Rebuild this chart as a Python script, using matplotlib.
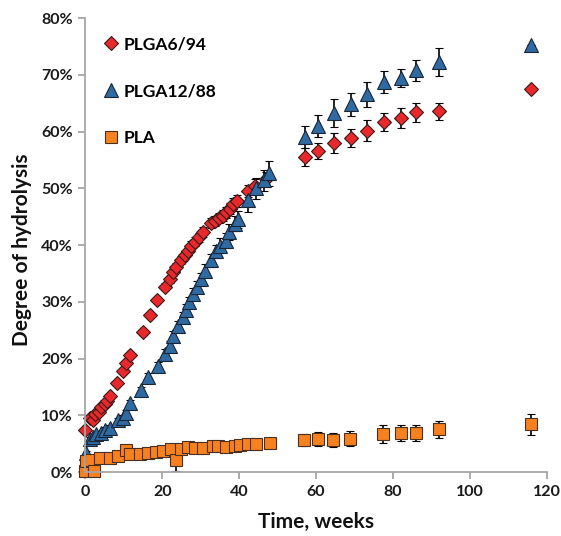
import matplotlib
matplotlib.use("Agg")
import matplotlib.pyplot as plt
from matplotlib.ticker import FuncFormatter
from matplotlib.lines import Line2D

plt.rcParams['font.family'] = ['Lato', 'DejaVu Sans']
plt.rcParams['font.weight'] = 'bold'

# PLGA6/94 (red diamonds)
t_6 = [0.0, 1.1, 2.0, 2.4, 3.5, 4.2, 5.0, 5.7, 6.3, 8.3, 9.8, 10.7, 11.5, 14.9, 16.8,
       18.7, 20.7, 22.0, 22.9, 23.7, 24.8, 25.9, 26.7, 27.6, 28.5, 29.6, 30.6, 32.6,
       33.7, 34.7, 35.9, 36.7, 37.6, 38.4, 39.5, 42.3, 44.1, 47.1,
       57.1, 60.5, 64.6, 69.0, 73.1, 77.6, 82.0, 85.9, 91.9, 115.8]
v_6 = [7.4, 9.5, 9.2, 10.2, 10.6, 11.4, 12.0, 12.5, 13.4, 15.7, 17.8, 19.3, 20.7, 24.7, 27.6,
       30.3, 32.7, 34.0, 35.2, 36.2, 37.3, 38.2, 39.0, 39.9, 40.6, 41.4, 42.3, 43.9,
       44.3, 44.8, 45.2, 45.8, 46.4, 47.3, 47.8, 49.5, 50.5, 51.7,
       55.5, 56.6, 58.0, 58.9, 60.2, 61.7, 62.4, 63.4, 63.6, 67.5]
e_6 = [0.3, 0.3, 0.3, 0.3, 0.3, 0.3, 0.3, 0.3, 0.3, 0.4, 0.4, 0.4, 0.4, 0.5, 0.5,
       0.5, 0.6, 0.6, 0.6, 0.7, 0.7, 0.7, 0.8, 0.8, 0.8, 0.8, 0.9, 0.9,
       0.9, 0.9, 1.0, 1.0, 1.0, 1.0, 1.0, 1.1, 1.2, 1.2,
       1.6, 1.4, 1.7, 1.6, 1.8, 1.6, 1.8, 1.7, 1.5, 0.0]

# PLGA12/88 (blue triangles)
t_12 = [0.3, 1.1, 2.0, 2.9, 4.2, 5.0, 6.3, 8.5, 9.8, 10.7, 11.5, 14.5, 16.3, 18.9, 20.6,
        21.9, 22.9, 24.2, 25.3, 26.2, 27.0, 28.1, 29.1, 30.1, 31.1, 32.8, 33.9, 35.0,
        36.7, 37.4, 38.9, 39.7, 42.4, 44.5, 46.5, 47.8,
        57.1, 60.5, 64.6, 69.0, 73.1, 77.6, 82.0, 85.9, 91.9, 115.8]
v_12 = [3.4, 5.8, 6.2, 6.7, 6.9, 7.4, 7.8, 9.1, 9.6, 10.4, 12.1, 14.4, 16.7, 18.7, 20.8,
        22.3, 24.0, 25.8, 27.3, 28.6, 29.9, 31.4, 32.7, 34.0, 35.5, 37.3, 38.9, 39.9,
        40.8, 42.3, 43.8, 44.6, 48.0, 50.0, 51.4, 52.7,
        59.1, 61.0, 63.3, 64.8, 66.6, 68.8, 69.4, 70.8, 72.3, 75.3]
e_12 = [0.3, 0.4, 0.4, 0.4, 0.4, 0.5, 0.5, 0.5, 0.5, 0.6, 0.6, 0.6, 0.7, 0.7, 0.8,
        0.8, 0.8, 0.9, 0.9, 1.0, 1.0, 1.0, 1.0, 1.1, 1.1, 1.2, 1.2, 1.3,
        1.3, 1.4, 1.4, 1.5, 2.1, 1.8, 1.9, 2.2,
        1.9, 1.9, 2.5, 2.1, 2.2, 1.9, 1.6, 1.8, 2.4, 0.0]

# PLA (orange squares)
t_pla = [0.0, 0.3, 1.6, 2.3, 3.7, 6.3, 8.5, 10.7, 11.5, 14.1, 16.3, 18.4, 20.2, 22.3,
         23.6, 24.9, 26.7, 28.4, 30.6, 33.2, 34.5, 36.6, 38.8, 40.1, 42.3, 44.4, 47.9,
         56.8, 60.5, 64.4, 68.9, 77.4, 82.0, 85.9, 91.9, 115.8]
v_pla = [0.1, 1.9, 2.1, 0.2, 2.4, 2.5, 2.8, 3.8, 3.2, 3.2, 3.4, 3.6, 3.7, 4.0,
         2.2, 4.0, 4.4, 4.3, 4.3, 4.6, 4.6, 4.4, 4.6, 4.7, 4.9, 4.9, 5.2,
         5.6, 5.8, 5.6, 5.9, 6.7, 6.8, 6.9, 7.5, 8.4]
e_pla = [0.1, 0.2, 0.2, 0.1, 0.2, 0.2, 0.2, 0.3, 0.3, 0.3, 0.3, 0.3, 0.3, 0.3,
         2.1, 0.3, 0.3, 0.3, 0.3, 0.3, 0.3, 0.4, 0.4, 0.4, 0.4, 0.5, 0.6,
         1.1, 1.2, 1.2, 1.4, 1.5, 1.4, 1.4, 1.5, 1.8]

x_ticks = [0, 20, 40, 60, 80, 100, 120]
y_ticks = [0, 10, 20, 30, 40, 50, 60, 70, 80]

series = [
    ('PLGA6/94', t_6, v_6, e_6, 'D', 7.5, '#E8282B', '#3a1a1a'),
    ('PLGA12/88', t_12, v_12, e_12, '^', 9.5, '#2F6AA2', '#1a2535'),
    ('PLA', t_pla, v_pla, e_pla, 's', 8.5, '#F7811F', '#4a3020'),
]

fig = plt.figure(figsize=(5.61, 5.36), dpi=100)
ax = fig.add_axes([0.152, 0.1194, 0.823, 0.8466])

handles = []
for label, t, v, e, mk, ms, fc, ec in series:
    cont = ax.errorbar(t, v, yerr=e, fmt=mk, markersize=ms, markerfacecolor=fc,
                       markeredgecolor=ec, markeredgewidth=0.8,
                       ecolor='black', elinewidth=1.2, capsize=3.2, capthick=1.2,
                       linestyle='none')
    cont.lines[0].set_clip_on(False)
    handles.append(Line2D([], [], linestyle='none', marker=mk, markersize=ms,
                          markerfacecolor=fc, markeredgecolor=ec, markeredgewidth=0.8,
                          label=label))

ax.set_xlim(0, 120)
ax.set_ylim(0, 80)
ax.set_xticks(x_ticks)
ax.set_yticks(y_ticks)
ax.yaxis.set_major_formatter(FuncFormatter(lambda v, p: f"{int(v)}%"))

for s in ['top', 'right']:
    ax.spines[s].set_visible(False)
for s in ['left', 'bottom']:
    ax.spines[s].set_color('#a6a6a6')
    ax.spines[s].set_linewidth(1.3)
ax.tick_params(axis='both', direction='out', length=5, width=1.3, color='#a6a6a6',
               labelsize=11.5, pad=4, labelcolor='#1a1a1a')
for lab in ax.get_xticklabels() + ax.get_yticklabels():
    lab.set_fontweight('bold')

ax.set_xlabel('Time, weeks', fontsize=15, fontweight='bold', color='#111111')
ax.set_ylabel('Degree of hydrolysis', fontsize=15, fontweight='bold', color='#111111')
ax.xaxis.set_label_coords(0.5, -0.088)
ax.yaxis.set_label_coords(-0.115, 0.49)

ax.legend(handles=handles, loc='upper left', bbox_to_anchor=(0.0, 0.995), frameon=False,
          handletextpad=0.1, labelspacing=1.78, handlelength=1.2,
          prop={'weight': 'bold', 'size': 12.5})

fig.savefig('out.png', dpi=100)
